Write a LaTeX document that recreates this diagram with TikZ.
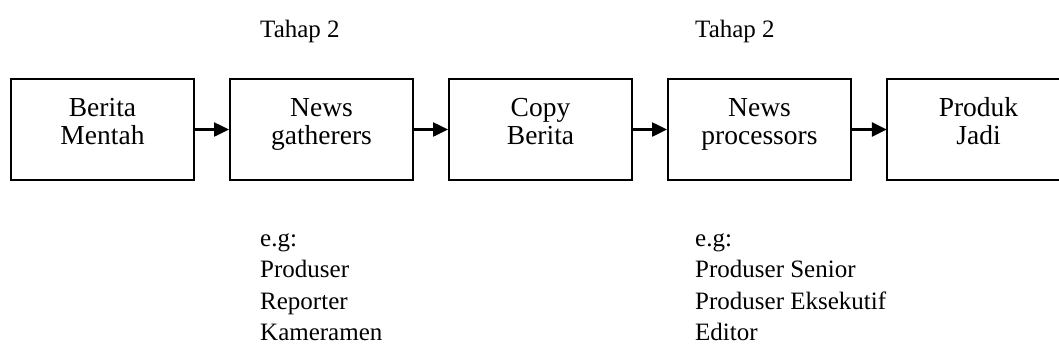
\documentclass[tikz,border=0pt]{standalone}
\usepackage{fontspec}
\setmainfont{Liberation Serif}
\usetikzlibrary{arrows.meta}
\begin{document}
\begin{tikzpicture}[x=1pt,y=-1pt,
  box/.style={draw=black,line width=2pt,minimum width=183pt,minimum height=101pt,inner sep=0pt},
  openbox/.style={minimum width=183pt,minimum height=101pt,inner sep=0pt},
  boxline/.style={draw=black,line width=2pt},
  boxtxt/.style={font=\fontsize{27.5}{28.5}\selectfont,anchor=base,inner sep=0pt},
  lbl/.style={font=\fontsize{25}{31.5}\selectfont,anchor=base west,inner sep=0pt},
  arr/.style={line width=2.5pt,-{Triangle[length=15pt,width=14pt]}}]
\useasboundingbox (0,0) rectangle (1059,362);
% boxes
\node[box] (b1) at (102.5,129.5) {};
\node[box] (b2) at (321.5,129.5) {};
\node[box] (b3) at (540.5,129.5) {};
\node[box] (b4) at (759.5,129.5) {};
\node[openbox] (b5) at (978.5,129.5) {};
\draw[boxline] (b5.north east) -- (b5.north west) -- (b5.south west) -- (b5.south east);
% box texts
\node[boxtxt] (t1a) at (102.5,116) {Berita};
\node[boxtxt] (t1b) at (102.5,144.5) {Mentah};
\node[boxtxt] (t2a) at (321.5,116) {News};
\node[boxtxt] (t2b) at (321.5,144.5) {gatherers};
\node[boxtxt] (t3a) at (540.5,116) {Copy};
\node[boxtxt] (t3b) at (540.5,144.5) {Berita};
\node[boxtxt] (t4a) at (759.5,116) {News};
\node[boxtxt] (t4b) at (759.5,144.5) {processors};
\node[boxtxt] (t5a) at (978.5,116) {Produk};
\node[boxtxt] (t5b) at (978.5,144.5) {Jadi};
% arrows
\draw[arr] (b1.east) -- (b2.west);
\draw[arr] (b2.east) -- (b3.west);
\draw[arr] (b3.east) -- (b4.west);
\draw[arr] (b4.east) -- (b5.west);
% top labels
\node[lbl] (s1) at (260,37) {Tahap 2};
\node[lbl] (s2) at (695,37) {Tahap 2};
% bottom lists
\node[lbl] (l0) at (260,246) {e.g:};
\node[lbl] (l1) at (260,277.5) {Produser};
\node[lbl] (l2) at (260,309) {Reporter};
\node[lbl] (l3) at (260,340.5) {Kameramen};
\node[lbl] (r0) at (695,246) {e.g:};
\node[lbl] (r1) at (695,277.5) {Produser Senior};
\node[lbl] (r2) at (695,309) {Produser Eksekutif};
\node[lbl] (r3) at (695,340.5) {Editor};
\end{tikzpicture}
\end{document}
